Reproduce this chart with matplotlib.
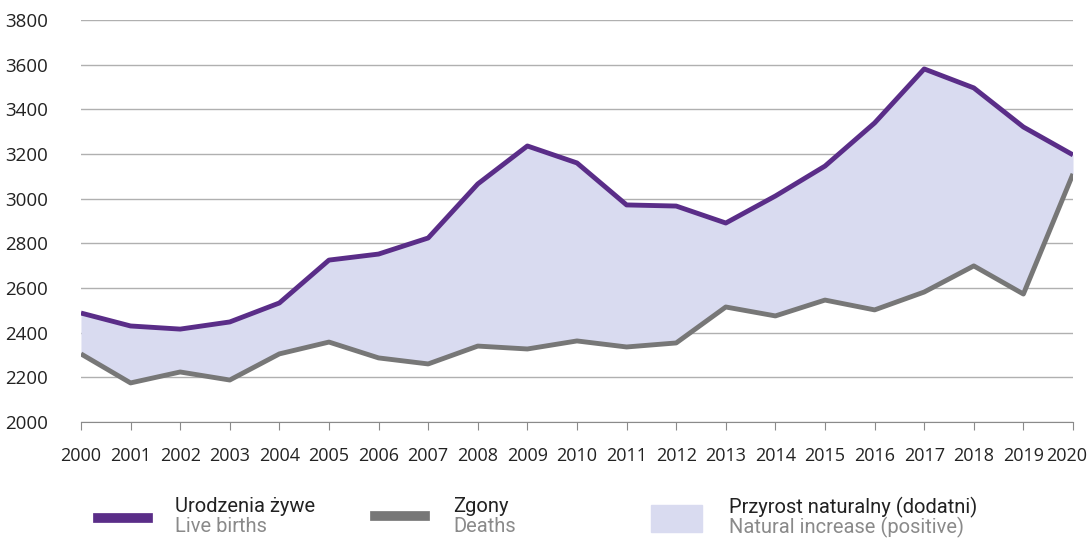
import matplotlib
matplotlib.use("Agg")
import matplotlib.pyplot as plt
from matplotlib import font_manager
from matplotlib.lines import Line2D
from matplotlib.patches import Rectangle
from matplotlib.transforms import ScaledTranslation

# ---------------------
#  Dane
# ---------------------

years = list(range(2000, 2021))
births = [2488, 2430, 2416, 2448, 2533, 2725, 2752, 2824, 3066, 3236, 3160,
          2972, 2967, 2891, 3012, 3146, 3339, 3581, 3496, 3321, 3196]
deaths = [2305, 2175, 2224, 2188, 2305, 2358, 2287, 2260, 2340, 2327, 2363,
          2336, 2354, 2515, 2475, 2546, 2502, 2582, 2699, 2573, 3111]
yticks = [2000, 2200, 2400, 2600, 2800, 3000, 3200, 3400, 3600, 3800]

PURPLE = "#5a2d88"
GRAY = "#777777"
FILL = "#d9dbf0"

names = {f.name for f in font_manager.fontManager.ttflist}
narrow = "Liberation Sans Narrow" if "Liberation Sans Narrow" in names else "Roboto"

plt.rcParams['font.family'] = ['Open Sans', 'DejaVu Sans']

fig = plt.figure(figsize=(10.91, 5.38), dpi=100)
ax = fig.add_axes([0.0742, 0.2156, 0.9093, 0.7472])

ax.fill_between(years, deaths, births, color=FILL, linewidth=0)
ax.plot(years, births, color=PURPLE, linewidth=3.5, solid_capstyle='butt')
ax.plot(years, deaths, color=GRAY, linewidth=3.5, solid_capstyle='butt')

ax.set_xlim(2000, 2020)
ax.set_ylim(2000, 3800)
ax.set_xticks(years)
ax.set_yticks(yticks)
ax.yaxis.grid(True, color="#b0b0b0", linewidth=1)
ax.set_axisbelow(True)
for s in ["top", "right", "left"]:
    ax.spines[s].set_visible(False)
ax.spines["bottom"].set_color("#8a8a8a")
ax.tick_params(axis='x', length=6, color="#8a8a8a", labelsize=13,
               labelcolor="#222222", pad=12)
ax.tick_params(axis='y', length=0, labelsize=13.5, labelcolor="#222222", pad=24)

# ostatnia etykieta lekko w lewo, zeby sie miescila
last = ax.get_xticklabels()[-1]
last.set_transform(last.get_transform() + ScaledTranslation(-6 / 100, 0, fig.dpi_scale_trans))

# ---------------------
#  Legenda
# ---------------------

def fx(px):
    return px / 1091

def fy(py):
    return 1 - py / 538

fig.add_artist(Line2D([fx(98), fx(148)], [fy(518), fy(518)], color=PURPLE,
                      linewidth=7, transform=fig.transFigure))
fig.add_artist(Line2D([fx(375), fx(425)], [fy(516), fy(516)], color=GRAY,
                      linewidth=7, transform=fig.transFigure))
fig.add_artist(Rectangle((fx(651), fy(532)), fx(51), 27 / 538, color=FILL,
                         transform=fig.transFigure))

legend_items = [
    (175, "Urodzenia żywe", "Live births"),
    (453, "Zgony", "Deaths"),
    (729, "Przyrost naturalny (dodatni)", "Natural increase (positive)"),
]
for x, pl, en in legend_items:
    fig.text(fx(x), fy(507), pl, family=[narrow, 'DejaVu Sans'], fontsize=14.5,
             color="#222222", va='center', ha='left')
    fig.text(fx(x), fy(527), en, family=[narrow, 'DejaVu Sans'], fontsize=14.5,
             color="#8a8a8a", va='center', ha='left')

fig.savefig("out.png", dpi=100)
